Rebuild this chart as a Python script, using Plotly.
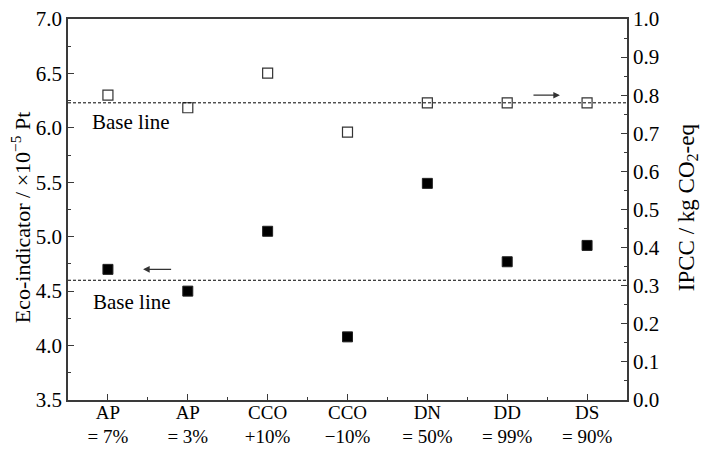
import plotly.graph_objects as go

categories = ["AP<br>= 7%", "AP<br>= 3%", "CCO<br>+10%", "CCO<br>\u221210%",
              "DN<br>= 50%", "DD<br>= 99%", "DS<br>= 90%"]
eco_values = [4.70, 4.50, 5.05, 4.08, 5.49, 4.77, 4.92]
ipcc_values = [0.800, 0.767, 0.858, 0.703, 0.780, 0.780, 0.780]
base_eco = 4.6
base_ipcc = 0.78
eco_ticks = [3.5, 4.0, 4.5, 5.0, 5.5, 6.0, 6.5, 7.0]
ipcc_ticks = [round(i * 0.1, 1) for i in range(11)]

xpos = list(range(1, len(categories) + 1))
FONT = "Liberation Serif, Times New Roman, serif"
AX = "#3a3a3a"

fig = go.Figure()
fig.add_trace(go.Scatter(x=xpos, y=eco_values, mode="markers",
                         marker=dict(symbol="square", size=10, color="black",
                                     line=dict(width=1, color="#222")),
                         yaxis="y", showlegend=False))
fig.add_trace(go.Scatter(x=xpos, y=ipcc_values, mode="markers",
                         marker=dict(symbol="square-open", size=10, color="#333",
                                     line=dict(width=1.2)),
                         yaxis="y2", showlegend=False))

# baselines
fig.add_shape(type="line", xref="paper", x0=0, x1=1, yref="y", y0=base_eco, y1=base_eco,
              line=dict(color="black", width=1, dash="3px,2px"))
fig.add_shape(type="line", xref="paper", x0=0, x1=1, yref="y2", y0=base_ipcc, y1=base_ipcc,
              line=dict(color="black", width=1, dash="3px,2px"))

fig.add_annotation(x=0.77, y=6.05, xref="x", yref="y", text="Base line", showarrow=False,
                   xanchor="left", yanchor="middle", font=dict(size=21, color="black", family=FONT))
fig.add_annotation(x=0.79, y=4.40, xref="x", yref="y", text="Base line", showarrow=False,
                   xanchor="left", yanchor="middle", font=dict(size=21, color="black", family=FONT))

# arrows
fig.add_annotation(x=1.44, y=eco_values[0], ax=1.81, ay=eco_values[0], xref="x", yref="y",
                   axref="x", ayref="y", text="", showarrow=True, arrowhead=2,
                   arrowsize=1.1, arrowwidth=1.2, arrowcolor="#333")
fig.add_annotation(x=6.66, y=0.80, ax=6.31, ay=0.80, xref="x", yref="y2",
                   axref="x", ayref="y2", text="", showarrow=True, arrowhead=2,
                   arrowsize=1.1, arrowwidth=1.2, arrowcolor="#333")

# axis titles
fig.add_annotation(x=-0.084, y=0.48, xref="paper", yref="paper", textangle=-90,
                   xanchor="center", yanchor="middle",
                   text="Eco-indicator / \u00d710<sup>\u22125</sup> Pt", showarrow=False,
                   font=dict(size=22, color="black", family=FONT))
fig.add_annotation(x=1.108, y=0.507, xref="paper", yref="paper", textangle=-90,
                   xanchor="center", yanchor="middle",
                   text="IPCC / kg CO<sub>2</sub>-eq", showarrow=False,
                   font=dict(size=23, color="black", family=FONT))

fig.update_layout(
    width=701, height=450,
    margin=dict(l=68, r=74, t=19, b=50, autoexpand=False),
    paper_bgcolor="white", plot_bgcolor="white",
    font=dict(family=FONT, size=21, color="black"),
    xaxis=dict(range=[0.5, 7.5], tickvals=xpos, ticktext=categories, automargin=False,
               showgrid=False, zeroline=False, showline=True, linecolor=AX, linewidth=1.5,
               mirror=True, ticks="inside", ticklen=6, tickcolor=AX, tickwidth=1,
               ticklabelstandoff=-6,
               minor=dict(tickvals=[i + 0.5 for i in xpos[:-1]], ticks="inside",
                          ticklen=3, tickcolor=AX, tickwidth=1),
               tickfont=dict(size=19)),
    yaxis=dict(range=[3.5, 7.0], tickvals=eco_ticks, tickformat=".1f", automargin=False,
               showgrid=False, zeroline=False, showline=True, linecolor=AX, linewidth=1.5,
               ticks="inside", ticklen=6, tickcolor=AX, tickwidth=1,
               minor=dict(dtick=0.25, tick0=3.5, ticks="inside", ticklen=3,
                          tickcolor=AX, tickwidth=1),
               tickfont=dict(size=21)),
    yaxis2=dict(range=[0, 1.0], tickvals=ipcc_ticks, tickformat=".1f", automargin=False,
                overlaying="y", side="right",
                showgrid=False, zeroline=False, showline=True, linecolor=AX, linewidth=1.5,
                ticks="inside", ticklen=6, tickcolor=AX, tickwidth=1,
                minor=dict(dtick=0.05, tick0=0, ticks="inside", ticklen=3,
                           tickcolor=AX, tickwidth=1),
                tickfont=dict(size=21)),
)

fig.write_html("out.html")
